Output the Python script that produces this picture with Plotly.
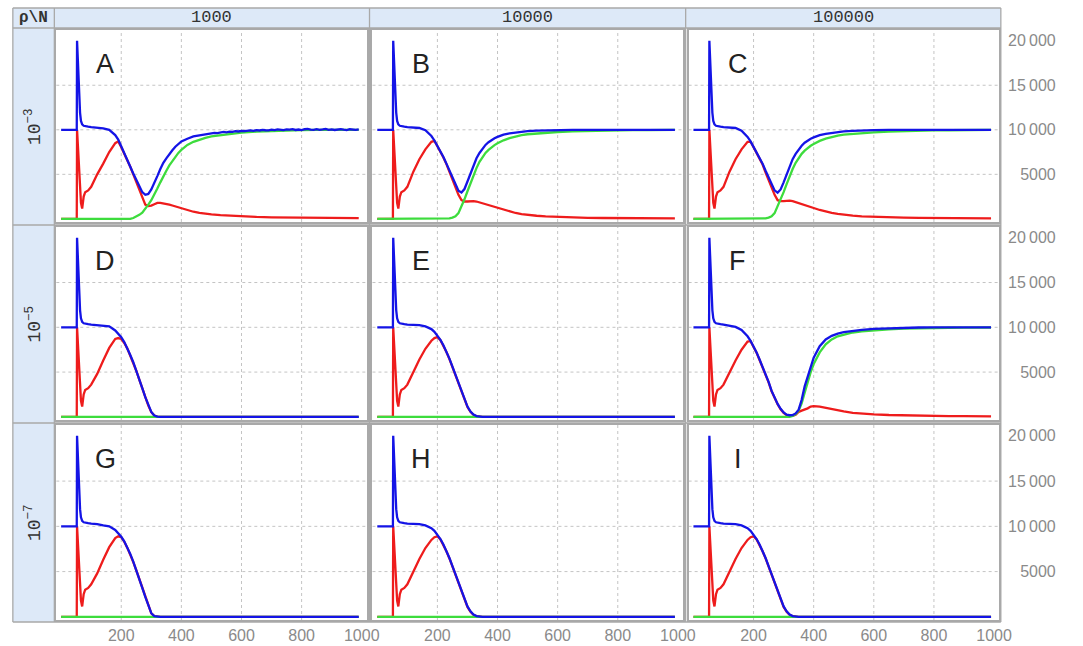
import plotly.graph_objects as go

W, H = 1083, 646

# ---------------- data ----------------
COL_TITLES = ["1000", "10000", "100000"]
ROW_TITLES = ["10<sup>−3</sup>", "10<sup>−5</sup>", "10<sup>−7</sup>"]
LETTERS = ["A", "B", "C", "D", "E", "F", "G", "H", "I"]

X_TICKS = [200, 400, 600, 800, 1000]
X_TICK_TEXT = ["200", "400", "600", "800", "1000"]
Y_TICKS = [5000, 10000, 15000, 20000]
Y_TICK_TEXT = ["\u2007\u20095000", "10\u2009000", "15\u2009000", "20\u2009000"]
GRID_X = [200, 400, 600, 800]
GRID_Y = [5000, 10000, 15000]

# shared start of every run (initial plateau, spike, red dip)
EARLY_T = [0, 50, 52, 53, 55, 57, 60, 63, 66, 70, 75, 80, 90, 100]
EARLY_BLUE = [10000, 10000, 10000, 20000, 18000, 16000, 13500, 11900, 11000, 10600, 10450, 10400, 10350, 10300]
EARLY_RED = [0, 0, 0, 10000, 8500, 7000, 5000, 3200, 1800, 1150, 2500, 3000, 3200, 3600]
EARLY_GREEN = [0, 0, 0, 0, 0, 0, 0, 0, 0, 0, 0, 0, 0, 0]

LATE_T = [120, 140, 160, 180, 190, 200, 210, 220, 230, 240, 250, 260, 270, 280, 290, 300,
          310, 320, 330, 340, 350, 360, 370, 380, 390, 400, 420, 440, 460, 480, 500, 530,
          560, 600, 650, 700, 750, 800, 850, 900, 950, 990]
ZERO_T = [0, 990]
ZERO_V = [0, 0]

# Panel A (noisy blue tail)
A_BLUE_HEAD_T = [120, 140, 160, 180, 190, 200, 210, 220, 230, 240, 250, 260, 270, 280, 290, 300,
                 310, 320, 330, 340, 350, 360, 370, 380, 390, 400, 420, 440, 460, 480]
A_BLUE_HEAD = [10250, 10150, 10000, 9400, 8900, 8100, 7400, 6700, 5900, 5100, 4400, 3600, 3000, 2700, 2800,
               3300, 4000, 4800, 5600, 6300, 6800, 7300, 7700, 8100, 8400, 8700, 9000, 9250, 9380, 9500]
A_TAIL_T = list(range(500, 1000, 10))
A_BLUE_TAIL = [9600, 9650, 9630, 9700, 9760, 9720, 9790, 9770, 9850, 9810,
               9880, 9840, 9900, 9930, 9880, 9960, 9920, 9990, 9950, 9940,
               10020, 9970, 10050, 9990, 9960, 10040, 10010, 10080, 9980, 10030,
               9970, 10060, 10110, 10020, 9990, 10070, 10000, 10040, 10090, 9990,
               10050, 9980, 10030, 10080, 10010, 9970, 10060, 10020, 9990, 10040]
A_RED = [5000, 6200, 7500, 8500, 8700, 8050, 7350, 6650, 5850, 5000, 4150, 3150, 2300, 1600, 1450,
         1500, 1650, 1800, 1800, 1750, 1700, 1600, 1500, 1400, 1250, 1150, 950, 800, 680, 580,
         500, 420, 350, 280, 220, 180, 150, 130, 110, 100, 90, 80]
A_GREEN = [0, 0, 0, 0, 0, 0, 0, 0, 0, 100, 250, 450, 700, 1100, 1600, 2100, 2700, 3400, 4100, 4800,
           5400, 6000, 6500, 7000, 7400, 7750, 8300, 8650, 8900, 9100, 9250, 9400, 9550, 9680, 9800,
           9880, 9930, 9960, 9980, 9990, 9990, 10000]

B_BLUE = [10250, 10200, 9950, 9300, 8800, 8200, 7600, 6950, 6200, 5400, 4550, 3750, 3150, 2950, 3350,
          4200, 5100, 6000, 6800, 7400, 7900, 8300, 8600, 8850, 9050, 9200, 9450, 9600, 9700, 9780,
          9840, 9900, 9940, 9970, 9990, 10000, 10000, 10000, 10000, 10000, 10000, 10000]
B_RED = [5300, 6700, 7800, 8650, 8750, 8150, 7550, 6900, 6150, 5250, 4350, 3500, 2700, 2100, 1950,
         1950, 2000, 2000, 1950, 1850, 1750, 1650, 1550, 1420, 1300, 1200, 980, 800, 660, 540,
         450, 350, 280, 210, 160, 120, 100, 85, 75, 65, 60, 55]
B_GREEN = [0, 0, 0, 0, 0, 0, 0, 0, 0, 50, 150, 300, 650, 1350, 2200, 3100, 4000, 4900, 5700, 6400,
           6950, 7400, 7750, 8050, 8280, 8480, 8820, 9060, 9250, 9390, 9500, 9600, 9680, 9750, 9820,
           9870, 9910, 9940, 9960, 9970, 9980, 9985]

C_BLUE = [10250, 10200, 9900, 9200, 8700, 8100, 7500, 6900, 6200, 5400, 4600, 3800, 3200, 2950, 3300,
          4100, 4950, 5900, 6700, 7300, 7800, 8200, 8550, 8800, 9000, 9150, 9400, 9550, 9650, 9750,
          9820, 9880, 9930, 9960, 9990, 10000, 10000, 10000, 10000, 10000, 10000, 10000]
C_RED = [5300, 6700, 7800, 8650, 8650, 8050, 7450, 6850, 6100, 5200, 4300, 3500, 2700, 2100, 2000,
         2000, 2050, 2050, 2000, 1900, 1800, 1700, 1580, 1450, 1330, 1220, 1000, 820, 680, 560,
         460, 360, 290, 220, 170, 130, 110, 90, 80, 70, 65, 60]
C_GREEN = [0, 0, 0, 0, 0, 0, 0, 0, 0, 50, 150, 300, 650, 1400, 2200, 3000, 3900, 4800, 5600, 6300,
           6850, 7300, 7650, 7950, 8200, 8400, 8750, 9000, 9200, 9350, 9460, 9560, 9640, 9720, 9800,
           9860, 9900, 9930, 9950, 9960, 9970, 9980]

D_BLUE = [10250, 10150, 10100, 9650, 9300, 8900, 8350, 7700, 6900, 6100, 5200, 4200, 3200, 2200, 1300,
          550, 150, 30, 0, 0, 0, 0, 0, 0, 0, 0, 0, 0, 0, 0, 0, 0, 0, 0, 0, 0, 0, 0, 0, 0, 0, 0]
D_RED = [4800, 6300, 7700, 8700, 8800, 8700, 8250, 7650, 6850, 6050, 5150, 4150, 3150, 2150, 1250,
         520, 140, 25, 0, 0, 0, 0, 0, 0, 0, 0, 0, 0, 0, 0, 0, 0, 0, 0, 0, 0, 0, 0, 0, 0, 0, 0]

E_BLUE = [10300, 10250, 10100, 9800, 9500, 9100, 8600, 8000, 7300, 6500, 5600, 4700, 3700, 2800, 1900,
          1150, 600, 250, 80, 20, 0, 0, 0, 0, 0, 0, 0, 0, 0, 0, 0, 0, 0, 0, 0, 0, 0, 0, 0, 0, 0, 0]
E_RED = [5000, 6400, 7600, 8500, 8800, 8900, 8550, 7950, 7250, 6450, 5550, 4650, 3650, 2750, 1850,
         1100, 560, 230, 70, 15, 0, 0, 0, 0, 0, 0, 0, 0, 0, 0, 0, 0, 0, 0, 0, 0, 0, 0, 0, 0, 0, 0]

F_BLUE = [10200, 10050, 9700, 9000, 8500, 7900, 7200, 6400, 5600, 4900, 3900, 2900, 2100, 1450, 900,
          500, 250, 180, 200, 380, 800, 1900, 3400, 4500, 5700, 6600, 7900, 8650, 9050, 9300,
          9450, 9620, 9720, 9820, 9900, 9950, 9980, 10000, 10000, 10000, 10000, 10000]
F_RED = [5000, 6300, 7500, 8400, 8450, 7850, 7150, 6350, 5550, 4850, 3850, 2850, 2050, 1400, 850,
         450, 200, 130, 120, 250, 550, 700, 800, 950, 1150, 1200, 1150, 1000, 880, 760,
         600, 450, 360, 280, 210, 160, 130, 110, 90, 80, 70, 60]
F_GREEN = [0, 0, 0, 0, 0, 0, 0, 0, 0, 0, 0, 0, 0, 0, 0, 0, 0, 0, 100, 300, 700, 1500, 2700, 3900,
           5000, 5900, 7200, 8100, 8650, 9000, 9200, 9420, 9560, 9680, 9780, 9850, 9900, 9930, 9950,
           9960, 9970, 9980]

G_BLUE = [10250, 10100, 10000, 9600, 9250, 8850, 8350, 7700, 6950, 6100, 5200, 4200, 3200, 2200, 1200,
          400, 80, 0, 0, 0, 0, 0, 0, 0, 0, 0, 0, 0, 0, 0, 0, 0, 0, 0, 0, 0, 0, 0, 0, 0, 0, 0]
G_RED = [4800, 6300, 7700, 8700, 8900, 8800, 8300, 7650, 6900, 6050, 5150, 4150, 3150, 2150, 1150,
         380, 70, 0, 0, 0, 0, 0, 0, 0, 0, 0, 0, 0, 0, 0, 0, 0, 0, 0, 0, 0, 0, 0, 0, 0, 0, 0]

H_BLUE = [10300, 10250, 10100, 9800, 9500, 9100, 8600, 8000, 7300, 6500, 5600, 4700, 3700, 2800, 1900,
          1150, 600, 250, 80, 20, 0, 0, 0, 0, 0, 0, 0, 0, 0, 0, 0, 0, 0, 0, 0, 0, 0, 0, 0, 0, 0, 0]
H_RED = [5000, 6400, 7600, 8500, 8800, 8900, 8550, 7950, 7250, 6450, 5550, 4650, 3650, 2750, 1850,
         1100, 560, 230, 70, 15, 0, 0, 0, 0, 0, 0, 0, 0, 0, 0, 0, 0, 0, 0, 0, 0, 0, 0, 0, 0, 0, 0]

I_BLUE = [10300, 10250, 10100, 9800, 9500, 9100, 8600, 8000, 7300, 6500, 5600, 4700, 3700, 2800, 1900,
          1150, 600, 250, 80, 20, 0, 0, 0, 0, 0, 0, 0, 0, 0, 0, 0, 0, 0, 0, 0, 0, 0, 0, 0, 0, 0, 0]
I_RED = [5000, 6400, 7600, 8500, 8800, 8900, 8550, 7950, 7250, 6450, 5550, 4650, 3650, 2750, 1850,
         1100, 560, 230, 70, 15, 0, 0, 0, 0, 0, 0, 0, 0, 0, 0, 0, 0, 0, 0, 0, 0, 0, 0, 0, 0, 0, 0]

# ---------------- assemble series per panel ----------------
def full(early, late):
    return early + late

FULL_T = EARLY_T + LATE_T
SERIES = {
    "A": dict(blue=(EARLY_T + A_BLUE_HEAD_T + A_TAIL_T, EARLY_BLUE + A_BLUE_HEAD + A_BLUE_TAIL),
              red=(FULL_T, full(EARLY_RED, A_RED)), green=(FULL_T, full(EARLY_GREEN, A_GREEN))),
    "B": dict(blue=(FULL_T, full(EARLY_BLUE, B_BLUE)), red=(FULL_T, full(EARLY_RED, B_RED)),
              green=(FULL_T, full(EARLY_GREEN, B_GREEN))),
    "C": dict(blue=(FULL_T, full(EARLY_BLUE, C_BLUE)), red=(FULL_T, full(EARLY_RED, C_RED)),
              green=(FULL_T, full(EARLY_GREEN, C_GREEN))),
    "D": dict(blue=(FULL_T, full(EARLY_BLUE, D_BLUE)), red=(FULL_T, full(EARLY_RED, D_RED)),
              green=(ZERO_T, ZERO_V)),
    "E": dict(blue=(FULL_T, full(EARLY_BLUE, E_BLUE)), red=(FULL_T, full(EARLY_RED, E_RED)),
              green=(ZERO_T, ZERO_V)),
    "F": dict(blue=(FULL_T, full(EARLY_BLUE, F_BLUE)), red=(FULL_T, full(EARLY_RED, F_RED)),
              green=(FULL_T, full(EARLY_GREEN, F_GREEN))),
    "G": dict(blue=(FULL_T, full(EARLY_BLUE, G_BLUE)), red=(FULL_T, full(EARLY_RED, G_RED)),
              green=(ZERO_T, ZERO_V)),
    "H": dict(blue=(FULL_T, full(EARLY_BLUE, H_BLUE)), red=(FULL_T, full(EARLY_RED, H_RED)),
              green=(ZERO_T, ZERO_V)),
    "I": dict(blue=(FULL_T, full(EARLY_BLUE, I_BLUE)), red=(FULL_T, full(EARLY_RED, I_RED)),
              green=(ZERO_T, ZERO_V)),
}

# ---------------- styling / geometry ----------------
COLORS = {"red": "#ee1c1c", "green": "#3ddc3d", "blue": "#1414e6"}
COL_X = [(57, 371), (377, 691), (697, 1011)]
ROW_Y = [(30, 222), (227, 420), (425, 620)]
LETTER_X = 147
FRAME = "#a9a9a9"
CELL_BG = "#dde9f8"
TICK_FONT = dict(family="Liberation Sans", size=16, color="#8a8a8a")
MONO = "Liberation Mono"


def px(x):
    return x / W


def py(y):
    return 1 - y / H


fig = go.Figure()
layout = dict(width=W, height=H, margin=dict(l=0, r=0, t=0, b=0), autosize=False,
              paper_bgcolor="white", plot_bgcolor="white", showlegend=False)
annotations = []
shapes = []

# background cells
shapes.append(dict(type="rect", xref="paper", yref="paper", x0=px(13), x1=px(1013), y0=py(28), y1=py(8),
                   fillcolor=CELL_BG, line=dict(width=0), layer="below"))
shapes.append(dict(type="rect", xref="paper", yref="paper", x0=px(13), x1=px(55), y0=py(622), y1=py(8),
                   fillcolor=CELL_BG, line=dict(width=0), layer="below"))
# cell borders
for xv in [13, 55, 374, 694, 1013]:
    shapes.append(dict(type="line", xref="paper", yref="paper", x0=px(xv), x1=px(xv), y0=py(622), y1=py(8),
                       line=dict(color=FRAME, width=1.3)))
for yv in [8, 28, 225, 423, 622]:
    shapes.append(dict(type="line", xref="paper", yref="paper", x0=px(13), x1=px(1013), y0=py(yv), y1=py(yv),
                       line=dict(color=FRAME, width=1.3)))

for k in range(1, 10):
    r, c = (k - 1) // 3, (k - 1) % 3
    sx = "" if k == 1 else str(k)
    x0, x1 = COL_X[c]
    y0, y1 = ROW_Y[r]
    layout["xaxis" + sx] = dict(
        domain=[px(x0), px(x1)], anchor="y" + sx, range=[-16, 1016],
        showgrid=False, zeroline=False, showline=True, mirror=True, linecolor=FRAME, linewidth=2,
        ticks="", tickmode="array", tickvals=X_TICKS, ticktext=X_TICK_TEXT,
        showticklabels=(r == 2), tickfont=TICK_FONT, fixedrange=True)
    layout["yaxis" + sx] = dict(
        domain=[py(y1), py(y0)], anchor="x" + sx, range=[-350, 21200],
        showgrid=False, zeroline=False, showline=True, mirror=True, linecolor=FRAME, linewidth=2,
        ticks="", tickmode="array", tickvals=Y_TICKS, ticktext=Y_TICK_TEXT,
        side="right", showticklabels=(c == 2), tickfont=TICK_FONT, ticklabelstandoff=4, fixedrange=True)
    for gx in GRID_X:
        shapes.append(dict(type="line", xref="x" + sx, yref="y" + sx + " domain", x0=gx, x1=gx, y0=0, y1=1,
                           line=dict(color="#c4c4c4", width=1, dash="dot"), layer="below"))
    for gy in GRID_Y:
        shapes.append(dict(type="line", xref="x" + sx + " domain", yref="y" + sx, x0=0, x1=1, y0=gy, y1=gy,
                           line=dict(color="#c4c4c4", width=1, dash="dot"), layer="below"))
    letter = LETTERS[k - 1]
    for name in ["red", "green", "blue"]:
        tx, ty = SERIES[letter][name]
        fig.add_trace(go.Scatter(x=tx, y=ty, mode="lines", xaxis="x" + sx, yaxis="y" + sx,
                                 line=dict(color=COLORS[name], width=2.3), hoverinfo="skip"))
    annotations.append(dict(x=LETTER_X, y=17400, xref="x" + sx, yref="y" + sx, text=letter,
                            xanchor="center", yanchor="middle",
                            showarrow=False, font=dict(family="Liberation Sans", size=27, color="#222")))

# headers
annotations.append(dict(x=px(34), y=py(18), xref="paper", yref="paper", text="<b>ρ\\N</b>", showarrow=False,
                        xanchor="center", yanchor="middle",
                        font=dict(family=MONO, size=16, color="#333")))
for c, title in enumerate(COL_TITLES):
    xc = [(55 + 374) / 2, (374 + 694) / 2, (694 + 1013) / 2][c]
    annotations.append(dict(x=px(xc), y=py(18), xref="paper", yref="paper", text=title, showarrow=False,
                            xanchor="center", yanchor="middle",
                            font=dict(family=MONO, size=17, color="#333")))
for r, title in enumerate(ROW_TITLES):
    yc = [(28 + 225) / 2, (225 + 423) / 2, (423 + 622) / 2][r]
    annotations.append(dict(x=px(34), y=py(yc), xref="paper", yref="paper", text=title, showarrow=False,
                            xanchor="center", yanchor="middle",
                            textangle=-90, font=dict(family=MONO, size=18, color="#333")))

layout["annotations"] = annotations
layout["shapes"] = shapes
fig.update_layout(**layout)
fig.write_html("out.html", config={"displayModeBar": False},
               post_script="document.body.style.margin='0px';document.body.style.overflow='hidden';")
